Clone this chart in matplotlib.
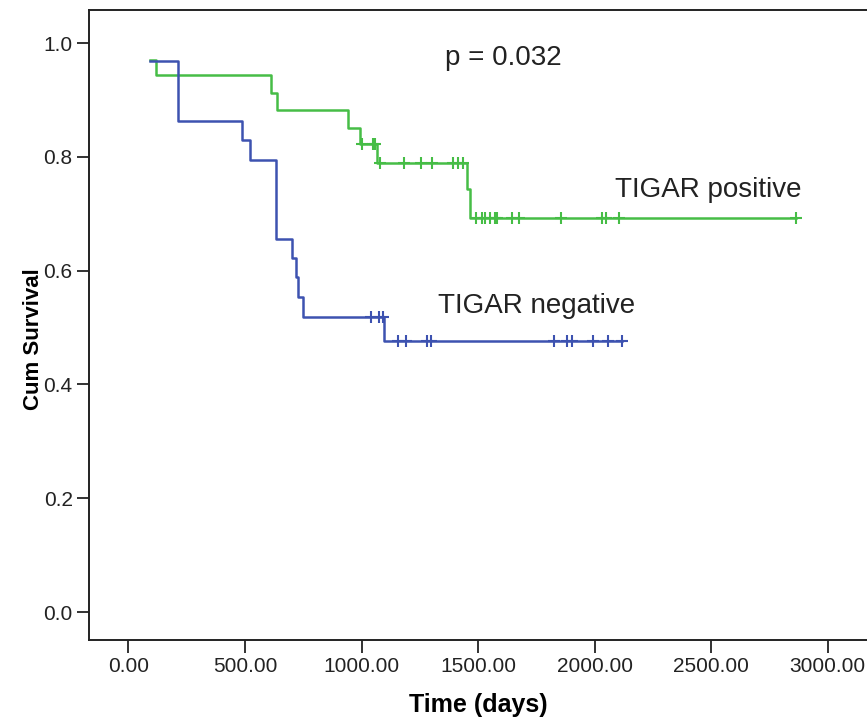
import numpy as np
import matplotlib.pyplot as plt

plt.rcParams['font.family'] = ['Liberation Sans', 'DejaVu Sans']

# TIGAR positive (green): step times and survival after each step
pos_times = [92, 118, 612, 639, 943, 994, 1065, 1454, 1466, 2863]
pos_surv = [0.970, 0.944, 0.913, 0.882, 0.851, 0.823, 0.789, 0.744, 0.692, 0.692]
pos_censor = [1003, 1050, 1058, 1080, 1182, 1254, 1301, 1394, 1415, 1434,
              1491, 1516, 1530, 1551, 1573, 1580, 1644, 1677, 1855, 2031,
              2049, 2106, 2863]

# TIGAR negative (blue)
neg_times = [92, 211, 486, 521, 631, 633, 700, 719, 729, 750, 1097, 2117]
neg_surv = [0.968, 0.863, 0.830, 0.794, 0.724, 0.656, 0.622, 0.588, 0.553,
            0.518, 0.476, 0.476]
neg_censor = [1039, 1076, 1094, 1158, 1191, 1280, 1297, 1826, 1880, 1905,
              1995, 2059, 2117]

green = '#46bd46'
blue = '#3d52b0'


def level_at(times, surv, t):
    idx = np.searchsorted(times, t, side='right') - 1
    return np.asarray(surv)[idx]


fig = plt.figure(figsize=(8.67, 7.19), dpi=100)
ax = fig.add_axes([0.103, 0.110, 0.897, 0.876])

ax.step(pos_times, pos_surv, where='post', color=green, lw=1.8)
ax.plot(pos_censor, level_at(pos_times, pos_surv, pos_censor), '+',
        color=green, ms=9, mew=1.5)
ax.step(neg_times, neg_surv, where='post', color=blue, lw=1.8)
ax.plot(neg_censor, level_at(neg_times, neg_surv, neg_censor), '+',
        color=blue, ms=9, mew=1.5)

ax.text(1358, 0.961, 'p = 0.032', fontsize=20, color='#222222')
ax.text(2088, 0.730, 'TIGAR positive', fontsize=20, color='#222222')
ax.text(1329, 0.525, 'TIGAR negative', fontsize=20, color='#222222')

ax.set_xlim(-168, 3169)
ax.set_ylim(-0.049, 1.058)
ax.set_xticks(np.arange(0, 3001, 500))
ax.set_xticklabels(['%.2f' % v for v in np.arange(0, 3001, 500)])
ax.set_yticks(np.arange(0, 1.01, 0.2))
ax.set_yticklabels(['%.1f' % v for v in np.arange(0, 1.01, 0.2)])
ax.tick_params(labelsize=15, length=9, width=1.3, colors='#222222', pad=3)

ax.spines['right'].set_visible(False)
for s in ['left', 'bottom', 'top']:
    ax.spines[s].set_linewidth(1.4)
    ax.spines[s].set_color('#222222')

ax.set_xlabel('Time (days)', fontsize=18, fontweight='bold')
ax.xaxis.set_label_coords(0.5, -0.085)
ax.set_ylabel('Cum Survival', fontsize=16, fontweight='bold')
ax.yaxis.set_label_coords(-0.058, 0.478)

fig.savefig('out.png', dpi=100)
